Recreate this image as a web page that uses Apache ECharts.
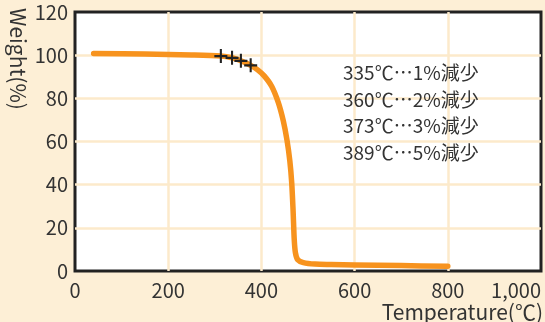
<!DOCTYPE html>
<html>
<head>
<meta charset="utf-8">
<script src="https://cdn.jsdelivr.net/npm/echarts@6/dist/echarts.min.js"></script>
<style>
html,body{margin:0;padding:0;background:#FDEFD6;}
#c{width:545px;height:322px;}
</style>
</head>
<body>
<div id="c"></div>
<script>
// Data
var temperature = [40, 150, 250, 313, 337, 356, 377, 392, 406, 422, 436, 447, 455, 461, 465, 468, 470.5, 473, 478, 490, 515, 550, 600, 700, 800];
var weight      = [100.8, 100.5, 100.1, 99.6, 98.8, 97.4, 95.3, 93.2, 90.4, 85.6, 78.2, 69.5, 60.5, 51, 41, 28, 14.5, 8.5, 5.2, 3.9, 3.2, 3.0, 2.8, 2.5, 2.2];
var markTemp    = [313, 337, 356, 377];
var markWeight  = [99.6, 98.8, 97.4, 95.3];
var notes = ['335℃…1%減少', '360℃…2%減少', '373℃…3%減少', '389℃…5%減少'];
var xTitle = 'Temperature(℃)';
var yTitle = 'Weight(%)';

var FONT = '"Noto Sans CJK JP", "Noto Sans", sans-serif';
var TXT = '#333333';
var GRIDC = '#FCEACB';

var curve = temperature.map(function (t, i) { return [t, weight[i]]; });
var marks = markTemp.map(function (t, i) { return [t, markWeight[i]]; });

var chart = echarts.init(document.getElementById('c'), null, {renderer: 'canvas'});
chart.setOption({
  animation: false,
  backgroundColor: '#FDEFD6',
  grid: {
    left: 75, right: 4, top: 12, bottom: 51,
    show: true, backgroundColor: '#ffffff', borderColor: '#222222', borderWidth: 3
  },
  xAxis: {
    type: 'value', min: 0, max: 1000, interval: 200,
    axisLine: {show: false}, axisTick: {show: false},
    axisLabel: {
      color: TXT, fontSize: 20, fontFamily: FONT, margin: 9,
      alignMaxLabel: 'right',
      formatter: function (v) { return v === 1000 ? '1,000' : String(v); }
    },
    splitLine: {show: true, showMinLine: false, showMaxLine: false, lineStyle: {color: GRIDC, width: 2.5}}
  },
  yAxis: {
    type: 'value', min: 0, max: 120, interval: 20,
    axisLine: {show: false}, axisTick: {show: false},
    axisLabel: {color: TXT, fontSize: 20, fontFamily: FONT, margin: 7},
    splitLine: {show: true, showMinLine: false, showMaxLine: false, lineStyle: {color: GRIDC, width: 2.5}}
  },
  series: [
    {
      type: 'line', data: curve, smooth: 0.3,
      showSymbol: false, symbol: 'none',
      lineStyle: {color: '#F7931E', width: 5.5, cap: 'round', join: 'round'},
      z: 2
    },
    {
      type: 'scatter', data: marks,
      symbol: 'path://M4.2,0H5.8V4.2H10V5.8H5.8V10H4.2V5.8H0V4.2H4.2Z',
      symbolSize: [13, 14],
      itemStyle: {color: '#222222', opacity: 1},
      z: 3
    }
  ],
  graphic: [
    {
      type: 'text', left: 343, top: 60, z: 100,
      style: {
        text: notes.join('\n'), fill: TXT, font: '19px ' + FONT,
        lineHeight: 26.5
      }
    },
    {
      type: 'text', x: 543, y: 312, z: 100,
      style: {text: xTitle, fill: TXT, font: '21px ' + FONT, align: 'right', verticalAlign: 'middle'}
    },
    {
      type: 'text', x: 18, y: 8, rotation: -Math.PI / 2, z: 100,
      style: {text: yTitle, fill: TXT, font: '21px ' + FONT, align: 'left', verticalAlign: 'middle'}
    }
  ]
});
</script>
</body>
</html>
